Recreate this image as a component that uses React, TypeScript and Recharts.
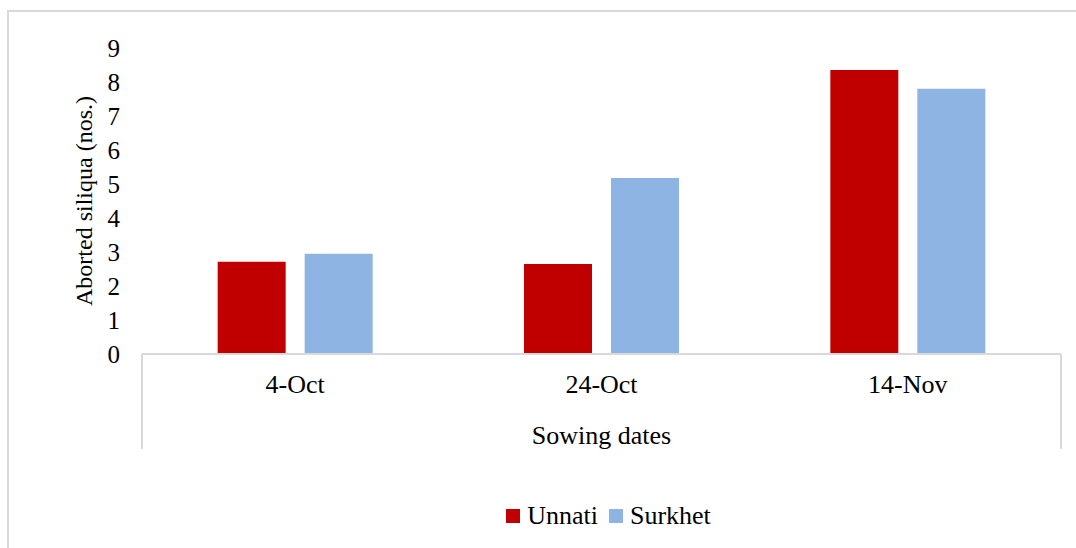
import { Bar, BarChart, Label, Legend, XAxis, YAxis } from 'recharts'

const FONT = '"Liberation Serif", Tinos, serif'
const LINE = '#D9D9D9'

const sowingDates = ['4-Oct', '24-Oct', '14-Nov']
const unnati = [2.71, 2.65, 8.35]
const surkhet = [2.95, 5.18, 7.8]
const yTicks = [0, 1, 2, 3, 4, 5, 6, 7, 8, 9]

const series = [
  { key: 'unnati', name: 'Unnati', color: '#C00000' },
  { key: 'surkhet', name: 'Surkhet', color: '#8EB4E3' },
]

const data = sowingDates.map((date, i) => ({
  date,
  unnati: unnati[i],
  surkhet: surkhet[i],
}))

function YTitle({ viewBox }: any) {
  const x = viewBox.x + 22
  const y = viewBox.y + viewBox.height / 2
  return (
    <text
      x={x}
      y={y}
      transform={`rotate(-90, ${x}, ${y})`}
      textAnchor="middle"
      dominantBaseline="central"
      fontFamily={FONT}
      fontSize={24}
      fill="#000"
    >
      Aborted siliqua (nos.)
    </text>
  )
}

// Excel-style category box: side rules below the axis plus the axis title
function XTitle({ viewBox }: any) {
  const { x, y, width } = viewBox
  return (
    <g>
      <line x1={x} y1={y} x2={x} y2={y + 95} stroke={LINE} strokeWidth={2} />
      <line x1={x + width} y1={y} x2={x + width} y2={y + 95} stroke={LINE} strokeWidth={2} />
      <text
        x={x + width / 2}
        y={y + 90}
        textAnchor="middle"
        fontFamily={FONT}
        fontSize={26}
        fill="#000"
      >
        Sowing dates
      </text>
    </g>
  )
}

function LegendContent() {
  return (
    <div
      style={{
        display: 'flex',
        justifyContent: 'center',
        alignItems: 'center',
        gap: 11,
        paddingLeft: 141,
        fontFamily: FONT,
        fontSize: 26,
        color: '#000',
      }}
    >
      {series.map((s) => (
        <div key={s.key} style={{ display: 'flex', alignItems: 'center', gap: 7 }}>
          <span style={{ width: 14, height: 14, background: s.color, display: 'inline-block' }} />
          <span>{s.name}</span>
        </div>
      ))}
    </div>
  )
}

export default function App() {
  return (
    <div
      style={{
        position: 'fixed',
        left: 0,
        top: 0,
        width: 1076,
        height: 548,
        overflow: 'hidden',
        background: '#fff',
        fontFamily: FONT,
      }}
    >
      <div
        style={{
          position: 'absolute',
          left: 7,
          top: 10,
          width: 1080,
          height: 560,
          borderLeft: `2px solid ${LINE}`,
          borderTop: `2px solid ${LINE}`,
        }}
      />
      <div style={{ position: 'absolute', left: 0, top: 0 }}>
        <BarChart
          width={1076}
          height={548}
          data={data}
          margin={{ top: 48, right: 15, left: 62, bottom: 134 }}
          barCategoryGap="24.7%"
          barGap={19}
        >
          <XAxis
            dataKey="date"
            height={60}
            tickLine={false}
            axisLine={{ stroke: LINE, strokeWidth: 2 }}
            tickMargin={15}
            tick={{ fill: '#000', fontSize: 26, fontFamily: FONT }}
          >
            <Label content={<XTitle />} />
          </XAxis>
          <YAxis
            width={80}
            domain={[0, 9]}
            ticks={yTicks}
            interval={0}
            tickLine={false}
            axisLine={false}
            tickMargin={16}
            tick={{ fill: '#000', fontSize: 25, fontFamily: FONT }}
          >
            <Label content={<YTitle />} />
          </YAxis>
          <Legend
            layout="horizontal"
            verticalAlign="middle"
            align="center"
            content={<LegendContent />}
            wrapperStyle={{ top: 501, left: 0, width: 1076 }}
          />
          {series.map((s) => (
            <Bar key={s.key} dataKey={s.key} name={s.name} fill={s.color} isAnimationActive={false} />
          ))}
        </BarChart>
      </div>
    </div>
  )
}
